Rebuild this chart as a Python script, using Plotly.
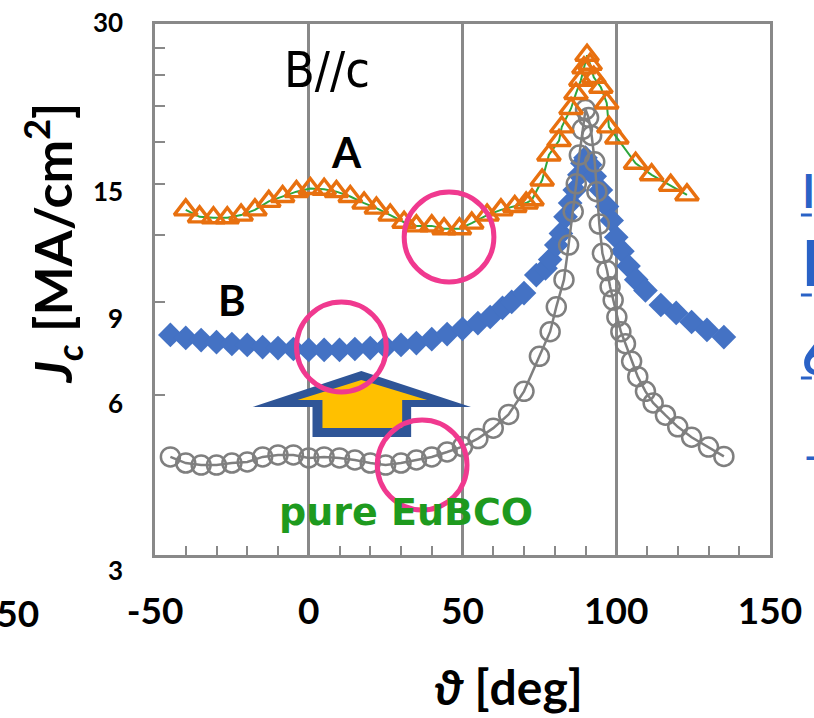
import numpy as np
import plotly.graph_objects as go

# ---- data: critical current density Jc vs field angle theta ----
# sample A (open triangles)
a_theta = [-40, -35.5, -31, -26.5, -22, -17.5, -13, -8.5, -4, 0.5, 5, 9, 13.5, 18, 22,
           26.5, 31, 35, 40, 44, 49, 53, 58, 62.5, 67, 70.7, 72.6, 75.9, 78.1, 81.4,
           82.3, 85.3, 86.9, 88.5, 89.5, 90.5, 91.5, 92.7, 95, 96.9, 97.6, 100.2,
           106.3, 111.5, 117.7, 123]
a_jc = [13.4, 13.0, 12.95, 12.95, 13.1, 13.4, 13.9, 14.2, 14.5, 14.7, 14.65, 14.5, 14.2,
        13.8, 13.5, 13.1, 12.7, 12.5, 12.5, 12.35, 12.35, 12.65, 13.1, 13.4, 13.6, 13.8,
        14.0, 15.25, 17.0, 18.1, 19.2, 20.8, 22.2, 23.5, 24.8, 26.2, 25.2, 23.8, 22.8,
        21.3, 19.2, 18.3, 16.4, 15.6, 14.9, 14.3]

# sample B (filled diamonds)
b_theta = [-45, -40, -35, -30, -25, -20, -15, -10, -5, 0, 5, 10, 15, 20, 25, 30, 35, 40,
           45, 50, 55, 59, 63, 66, 70, 74, 77, 78.5, 80.5, 82, 83.5, 85, 86.5, 88, 89, 90,
           91.5, 93, 95, 97, 98.5, 100, 102, 104, 106.5, 109.5, 114.5, 119.5, 124.5,
           129.5, 135]
b_jc = [7.79, 7.69, 7.62, 7.55, 7.49, 7.46, 7.39, 7.36, 7.33, 7.30, 7.30, 7.30, 7.33,
        7.36, 7.39, 7.46, 7.52, 7.65, 7.82, 8.0, 8.2, 8.42, 8.76, 8.99, 9.34, 10.1, 10.4,
        10.8, 11.5, 12.1, 13.0, 13.8, 14.6, 15.6, 16.4, 16.8, 16.3, 15.5, 14.6, 13.6,
        12.8, 11.9, 11.2, 10.5, 9.9, 9.45, 8.87, 8.57, 8.24, 7.96, 7.72]

# pure EuBCO (open circles with line)
p_theta = [-45, -40, -35, -30, -25, -20, -15, -10, -5, 0, 5, 10, 15, 20, 25, 30, 35, 40,
           45, 50, 55, 60, 65, 70, 75, 78.5, 80.5, 83, 84.5, 86, 87, 88, 89, 90, 91, 92,
           93, 93.7, 94.5, 95.5, 97, 98, 99, 100.2, 101.5, 103, 105, 107, 109.5, 112,
           116, 120, 124.5, 130, 135]
p_jc = [4.59, 4.47, 4.43, 4.43, 4.47, 4.49, 4.59, 4.63, 4.63, 4.57, 4.59, 4.57, 4.53,
        4.47, 4.43, 4.47, 4.53, 4.59, 4.69, 4.80, 4.97, 5.20, 5.52, 6.1, 7.1, 7.9, 8.8,
        9.9, 11.5, 13.3, 15.0, 17.0, 19.0, 20.7, 20.0, 18.5, 16.5, 14.5, 12.6, 11.1,
        10.3, 9.6, 9.06, 8.42, 7.9, 7.5, 6.95, 6.5, 6.1, 5.8, 5.5, 5.23, 5.0, 4.79, 4.6]

x_ticks = [-50, 0, 50, 100, 150]
x_minor = [v for v in range(-40, 150, 10) if v % 50 != 0]
y_ticks = [3, 6, 9, 12, 15, 18, 21, 24, 27, 30]
y_labels = [30, 15, 9, 6, 3]
y_label_shift = [2, -7, -16, -8, -15]

# ---- figure geometry (pixels) ----
W, H = 814, 718
L, R, T, B = 155, 42, 24, 163
PW, PH = W - L - R, H - T - B


def px(x):
    return (x - L) / PW


def py(y):
    return (H - B - y) / PH


AX = "#898989"
FONT = "Lato, 'Open Sans', sans-serif"
LINK = "#2A62C6"

fig = go.Figure()
fig.add_trace(go.Scatter(
    x=b_theta, y=b_jc, mode="markers", name="B",
    marker=dict(symbol="diamond", size=19, color="#4472C4", line=dict(width=0)),
))
fig.add_trace(go.Scatter(
    x=p_theta, y=p_jc, mode="lines+markers", name="pure EuBCO",
    line=dict(color="#7F7F7F", width=2.5),
    marker=dict(symbol="circle-open", size=19, color="#7F7F7F", line=dict(width=2.5)),
))
fig.add_trace(go.Scatter(
    x=a_theta, y=a_jc, mode="lines+markers", name="A",
    line=dict(color="#2EA63C", width=2),
    marker=dict(symbol="triangle-up-open", size=20, color="#E8700F", line=dict(width=3.4)),
))

fig.update_xaxes(
    range=[-50, 150], tickmode="array", tickvals=x_ticks,
    ticktext=[str(v) for v in x_ticks],
    ticks="inside", ticklen=9, tickwidth=2, tickcolor=AX,
    minor=dict(tickvals=x_minor, ticks="inside", ticklen=9, tickwidth=2,
               tickcolor=AX, showgrid=False),
    showgrid=True, gridcolor=AX, gridwidth=2.5,
    showline=True, linecolor=AX, linewidth=3, mirror=True, zeroline=False,
    tickfont=dict(family=FONT, size=37, color="black", weight="bold"),
    ticklabelstandoff=22,
)
fig.update_yaxes(
    type="log", range=[np.log10(3), np.log10(30)], tickmode="array",
    tickvals=y_ticks, ticks="inside", ticklen=10, tickwidth=2, tickcolor=AX,
    showticklabels=False, showgrid=False,
    showline=True, linecolor=AX, linewidth=3, mirror=True, zeroline=False,
)

ann = []
for v, s in zip(y_labels, y_label_shift):
    ann.append(dict(x=0, xref="paper", y=np.log10(v), yref="y", text=str(v),
                    xanchor="right", yanchor="middle", xshift=-30, yshift=s,
                    showarrow=False,
                    font=dict(family=FONT, size=26, color="black", weight="bold")))


def label(x, y, text, size, color="black", weight="bold", family=FONT, angle=0,
          anchor="center"):
    ann.append(dict(x=px(x), y=py(y), xref="paper", yref="paper", text=text,
                    xanchor=anchor, yanchor="middle", showarrow=False,
                    textangle=angle,
                    font=dict(family=family, size=size, color=color, weight=weight)))


label(52, 243, "<i>J</i><sub><i>c</i></sub> [MA/cm<sup>2</sup>]", 52, angle=-90)
label(510, 686, "<i>ϑ</i> [deg]", 48)
label(328, 70, "B//c", 50, weight="normal",
      family="'Liberation Sans Narrow', 'DejaVu Sans Condensed', sans-serif")
label(347, 152, "A", 42)
label(232, 300, "B", 42)
label(407, 512, "pure EuBCO", 38, color="#1E9A1E", family="'DejaVu Sans', sans-serif")

# cropped axis label of the neighbouring panel
label(41, 612, "-150", 37, anchor="right")

# cropped legend entries running off the right edge
label(803, 190, "l", 46, color=LINK, anchor="left")
label(803, 262, "l", 62, color=LINK, anchor="left")
label(802, 356, "6", 50, color=LINK, anchor="left")
label(803, 455, "–", 40, color=LINK, anchor="left")

shapes = []

# underline of the cropped legend entries
for yy in (215, 295, 378):
    shapes.append(dict(type="line", xref="paper", yref="paper",
                       x0=px(803), x1=px(814), y0=py(yy), y1=py(yy),
                       line=dict(color=LINK, width=3)))

# up arrow: dark blue body with a yellow arrow on top
blue = [(253, 407), (362, 371), (472, 407), (412, 407), (412, 437), (313, 437), (313, 407)]
yel = [(298, 400), (362, 380), (428, 400), (403, 400), (403, 428), (323, 428), (323, 400)]


def poly(pts):
    return "M " + " L ".join(f"{px(x):.4f},{py(y):.4f}" for x, y in pts) + " Z"


shapes.append(dict(type="path", xref="paper", yref="paper", path=poly(blue),
                   fillcolor="#2F5597", line=dict(width=0), layer="above"))
shapes.append(dict(type="path", xref="paper", yref="paper", path=poly(yel),
                   fillcolor="#FFC000", line=dict(width=0), layer="above"))

# highlight rings
for cx, cy, r in [(450, 237, 45), (342, 347, 45), (423, 465, 45)]:
    shapes.append(dict(type="circle", xref="paper", yref="paper",
                       x0=px(cx - r), x1=px(cx + r), y0=py(cy + r), y1=py(cy - r),
                       line=dict(color="#F0398F", width=5), layer="above"))

fig.update_layout(
    width=W, height=H, margin=dict(l=L, r=R, t=T, b=B),
    paper_bgcolor="white", plot_bgcolor="white", showlegend=False,
    annotations=ann, shapes=shapes,
)
fig.write_html("out.html")
